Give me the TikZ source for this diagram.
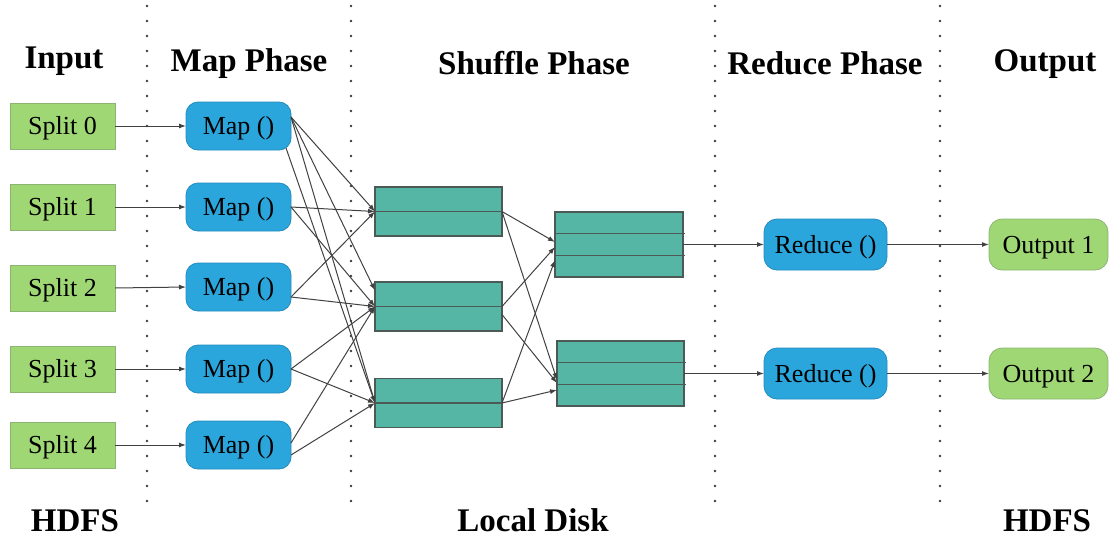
\documentclass[tikz,border=0pt]{standalone}
\usepackage{fontspec}
\setmainfont{Liberation Serif}
\usetikzlibrary{arrows.meta,calc}
\definecolor{splitgreen}{RGB}{160,215,117}
\definecolor{splitborder}{RGB}{140,180,115}
\definecolor{mapblue}{RGB}{43,166,220}
\definecolor{mapborder}{RGB}{35,140,190}
\definecolor{bufteal}{RGB}{85,182,166}
\definecolor{bufborder}{RGB}{75,90,85}
\definecolor{linegray}{RGB}{65,65,65}
\definecolor{dotgray}{RGB}{60,60,60}
\tikzset{
  lbl/.style={font=\fontsize{26}{30}\selectfont, text height=22pt, text depth=5pt, inner sep=0pt, outer sep=0pt},
  head/.style={font=\bfseries\fontsize{33}{38}\selectfont, anchor=base, inner sep=0pt},
  splitbox/.style={lbl, draw=splitborder, fill=splitgreen, line width=0.8pt, minimum width=105pt, minimum height=46pt},
  outbox/.style={lbl, draw=splitborder, fill=splitgreen, line width=0.8pt, rounded corners=13pt, minimum width=119pt, minimum height=51pt},
  mapbox/.style={lbl, draw=mapborder, fill=mapblue, line width=0.8pt, rounded corners=12pt, minimum width=105pt, minimum height=48pt},
  redbox/.style={lbl, draw=mapborder, fill=mapblue, line width=0.8pt, rounded corners=13pt, minimum width=123pt, minimum height=51pt},
  buf/.style={draw=bufborder, fill=bufteal, line width=1.1pt, inner sep=0pt, outer sep=0pt, minimum width=127pt},
  midline/.style={draw=bufborder, line width=1.1pt},
  conn/.style={draw=linegray, line width=1pt, -{Latex[length=7pt,width=5pt]}},
  dotline/.style={draw=dotgray, line width=2.8pt, line cap=round, dash pattern=on 0pt off 15pt}
}
\begin{document}
\begin{tikzpicture}[x=1pt,y=-1pt]
\useasboundingbox (0,0) rectangle (1109,539);
% dotted separators
\draw[dotline] (147,6) -- (147,506);
\draw[dotline] (351,6) -- (351,506);
\draw[dotline] (715,6) -- (715,506);
\draw[dotline] (940,6) -- (940,506);
% headings
\node[head] (hin) at (64,68) {Input};
\node[head] (hmap) at (249,71) {Map Phase};
\node[head] (hshuf) at (534,74) {Shuffle Phase};
\node[head] (hred) at (825,74) {Reduce Phase};
\node[head] (hout) at (1045,71) {Output};
\node[head] (hdfs1) at (75,531) {HDFS};
\node[head] (hdisk) at (533,531) {Local Disk};
\node[head] (hdfs2) at (1047,531) {HDFS};
% splits
\node[splitbox] (s0) at (62.5,126) {Split 0};
\node[splitbox] (s1) at (62.5,207) {Split 1};
\node[splitbox] (s2) at (62.5,288) {Split 2};
\node[splitbox] (s3) at (62.5,369) {Split 3};
\node[splitbox] (s4) at (62.5,445) {Split 4};
% maps
\node[mapbox] (m0) at (238.5,126) {Map ()};
\node[mapbox] (m1) at (238.5,207) {Map ()};
\node[mapbox] (m2) at (238.5,287) {Map ()};
\node[mapbox] (m3) at (238.5,369) {Map ()};
\node[mapbox] (m4) at (238.5,445) {Map ()};
% shuffle buffers
\node[buf, minimum height=49pt] (ba) at (438.5,211.5) {};
\node[buf, minimum height=49pt] (bb) at (438.5,306.5) {};
\node[buf, minimum height=49pt] (bc) at (438.5,403) {};
\draw[midline] (ba.west) -- (ba.east);
\draw[midline] (bb.west) -- (bb.east);
\draw[midline] (bc.west) -- (bc.east);
% reduce-side buffers
\node[buf, minimum width=128pt, minimum height=65pt] (bd) at (619,244.5) {};
\node[buf, minimum height=65pt] (be) at (620.5,373.5) {};
\draw[midline] ($(bd.north west)!0.333!(bd.south west)$) -- ($(bd.north east)!0.333!(bd.south east)+(2,0)$);
\draw[midline] ($(bd.north west)!0.667!(bd.south west)$) -- ($(bd.north east)!0.667!(bd.south east)+(2,0)$);
\draw[midline] ($(be.north west)!0.333!(be.south west)$) -- ($(be.north east)!0.333!(be.south east)+(2,0)$);
\draw[midline] ($(be.north west)!0.667!(be.south west)$) -- ($(be.north east)!0.667!(be.south east)+(2,0)$);
% reduce and output
\node[redbox] (r1) at (825.5,244.5) {Reduce ()};
\node[redbox] (r2) at (825.5,373.5) {Reduce ()};
\node[outbox] (o1) at (1048.5,244.5) {Output 1};
\node[outbox] (o2) at (1048.5,373.5) {Output 2};
% split -> map
\draw[conn] (s0.east) -- (m0.west);
\draw[conn] (s1.east) -- (m1.west);
\draw[conn] (s2.east) -- (m2.west);
\draw[conn] (s3.east) -- (m3.west);
\draw[conn] (s4.east) -- (m4.west);
% map -> shuffle buffers
\draw[conn] ([yshift=9pt]m0.east) -- (ba.west);
\draw[conn] ([yshift=9pt]m0.east) -- ([yshift=16pt]bb.west);
\draw[conn] ([yshift=9pt]m0.east) -- (bc.west);
\draw[conn] ([xshift=-5pt,yshift=2pt]m0.south east) -- (bc.west);
\draw[conn] (m1.east) -- (ba.west);
\draw[conn] (m1.east) -- (bb.west);
\draw[conn] ([yshift=-10pt]m2.east) -- (ba.west);
\draw[conn] ([yshift=-10pt]m2.east) -- (bb.west);
\draw[conn] (m3.east) -- (bb.west);
\draw[conn] (m3.east) -- (bc.west);
\draw[conn] ([yshift=2pt]m4.east) -- (bb.west);
\draw[conn] ([yshift=-10pt]m4.east) -- (bc.west);
% shuffle -> reduce-side buffers
\draw[conn] (ba.east) -- ([yshift=2.5pt]bd.west);
\draw[conn] (ba.east) -- ([yshift=-6.5pt]be.west);
\draw[conn] (bb.east) -- ([yshift=-2.5pt]bd.west);
\draw[conn] ([yshift=-8pt]bb.east) -- ([yshift=-9.5pt]be.west);
\draw[conn] (bc.east) -- ([yshift=-15.5pt]bd.west);
\draw[conn] (bc.east) -- ([yshift=-16.5pt]be.west);
% buffers -> reduce -> output
\draw[conn] (bd.east) -- (r1.west);
\draw[conn] (be.east) -- (r2.west);
\draw[conn] (r1.east) -- (o1.west);
\draw[conn] (r2.east) -- (o2.west);
\end{tikzpicture}
\end{document}
